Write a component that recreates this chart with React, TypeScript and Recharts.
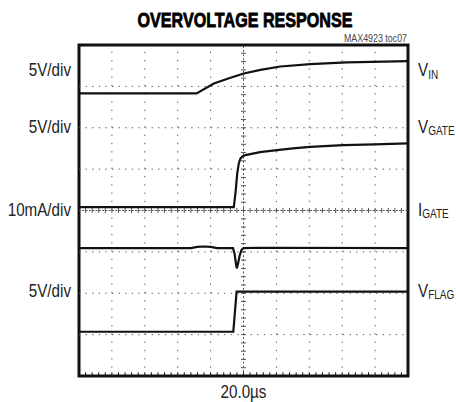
import React from 'react';
import { LineChart, Line, XAxis, YAxis, ReferenceLine, ReferenceArea, Label } from 'recharts';

// scope screen: x in microseconds (20us/div, 10 div), y in divisions (8 div)
const vinTime = [0, 71.5, 82.0, 92.1, 100.2, 110.3, 122.4, 140.6, 162.8, 200];
const vinLevel = [6.83, 6.83, 7.07, 7.21, 7.31, 7.4, 7.48, 7.54, 7.58, 7.61];

const vgateTime = [0, 94.1, 95.2, 96.2, 97.2, 98.2, 99.5, 101.2, 110, 120.4, 130, 140.6, 160.6, 180, 200];
const vgateLevel = [4.08, 4.08, 4.45, 4.9, 5.15, 5.26, 5.31, 5.34, 5.41, 5.46, 5.5, 5.54, 5.58, 5.6, 5.62];

const igateTime = [0, 68, 72, 76, 80, 84, 93.6, 94.6, 95.4, 95.9, 96.6, 97.6, 98.8, 100, 110, 200];
const igateLevel = [3.09, 3.09, 3.12, 3.13, 3.12, 3.09, 3.09, 2.95, 2.72, 2.6, 2.7, 2.9, 3.05, 3.09, 3.1, 3.09];

const vflagTime = [0, 93.8, 95.8, 200];
const vflagLevel = [1.07, 1.07, 2.04, 2.04];

const gridX = [20, 40, 60, 80, 120, 140, 160, 180];
const gridY = [1, 2, 3, 5, 6, 7];
const labelY = [7.41, 6.04, 4.04, 2.08];
const scaleLabels = ['5V/div', '5V/div', '10mA/div', '5V/div'];
const traceNames = [['V', 'IN'], ['V', 'GATE'], ['I', 'GATE'], ['V', 'FLAG']];

const minorX = Array.from({ length: 49 }, (_, i) => (i + 1) * 4);
const minorY = Array.from({ length: 39 }, (_, i) => +((i + 1) * 0.2).toFixed(1));

const SANS = "'Liberation Sans', Arial, sans-serif";
const SQUEEZE = 0.8; // fake a condensed face
const INK = '#111';
const DOT = '#555';
const TEXT = '#222';

const toPoints = (t: number[], v: number[]) => t.map((time, i) => ({ time, value: v[i] }));

const LeftTick = ({ x, y, index }: any) => (
  <g transform={`translate(${x},${y}) scale(${SQUEEZE},1)`}>
    <text x={0} y={0} dy="0.36em" textAnchor="end" fontFamily={SANS} fontSize={19} fill={TEXT}>
      {scaleLabels[index]}
    </text>
  </g>
);

const RightTick = ({ x, y, index }: any) => {
  const [main, sub] = traceNames[index] || ['', ''];
  return (
    <g transform={`translate(${x},${y}) scale(${SQUEEZE},1)`}>
      <text x={0} y={0} dy="0.36em" textAnchor="start" fontFamily={SANS} fontSize={19} fill={TEXT}>
        <tspan>{main}</tspan>
        <tspan fontSize={12.5} dy={2.5}>{sub}</tspan>
      </text>
    </g>
  );
};

const TimeLabel = ({ viewBox }: any) => {
  const cx = viewBox.x + viewBox.width / 2;
  return (
    <g transform={`translate(${cx},${viewBox.y + 22}) scale(${SQUEEZE},1)`}>
      <text x={0} y={0} textAnchor="middle" fontFamily={SANS} fontSize={19} fill={TEXT}>20.0µs</text>
    </g>
  );
};

export default function App() {
  const traces = [
    toPoints(vinTime, vinLevel),
    toPoints(vgateTime, vgateLevel),
    toPoints(igateTime, igateLevel),
    toPoints(vflagTime, vflagLevel),
  ];
  const axisFor = ['right', 'right', 'left', 'left'];

  return (
    <div style={{ position: 'absolute', left: 0, top: 0, width: 456, height: 402, background: '#fff' }}>
      <LineChart width={456} height={402} margin={{ top: 45, right: 0, bottom: 0, left: 0 }}>
        <XAxis
          dataKey="time"
          type="number"
          domain={[0, 200]}
          ticks={[0, 200]}
          allowDuplicatedCategory={false}
          height={26}
          tick={false}
          tickLine={false}
          axisLine={false}
        >
          <Label content={<TimeLabel />} />
        </XAxis>
        <YAxis yAxisId="left" orientation="left" type="number" domain={[0, 8]} ticks={labelY} width={79}
          tickSize={8} tickMargin={0} tickLine={false} axisLine={false} tick={<LeftTick />} interval={0} />
        <YAxis yAxisId="right" orientation="right" type="number" domain={[0, 8]} ticks={labelY} width={48}
          tickSize={10} tickMargin={0} tickLine={false} axisLine={false} tick={<RightTick />} interval={0} />

        {gridY.map((v) => (
          <ReferenceLine key={`gy-${v}`} yAxisId="left" y={v} stroke={DOT} strokeWidth={1} strokeDasharray="1.3 5.3" />
        ))}
        {gridX.map((v) => (
          <ReferenceLine key={`gx-${v}`} yAxisId="left" x={v} stroke={DOT} strokeWidth={1} strokeDasharray="1.3 6.98" />
        ))}
        <ReferenceLine yAxisId="left" y={4} stroke={DOT} strokeWidth={1} strokeDasharray="2 1.3" />
        <ReferenceLine yAxisId="left" x={100} stroke={DOT} strokeWidth={1} strokeDasharray="2 2.1" />
        {minorX.map((t) => (
          <ReferenceLine key={`mx-${t}`} yAxisId="left" stroke={DOT} strokeWidth={1}
            segment={[{ x: t, y: 3.94 }, { x: t, y: 4.06 }]} />
        ))}
        {minorX.map((t) => (
          <ReferenceLine key={`bx-${t}`} yAxisId="left" stroke={INK} strokeWidth={1}
            segment={[{ x: t, y: 0 }, { x: t, y: 0.09 }]} />
        ))}
        {minorY.map((v) => (
          <ReferenceLine key={`my-${v}`} yAxisId="left" stroke={DOT} strokeWidth={1}
            segment={[{ x: 98.5, y: v }, { x: 101.5, y: v }]} />
        ))}

        {traces.map((data, i) => (
          <Line
            key={`trace-${i}`}
            yAxisId={axisFor[i]}
            data={data}
            dataKey="value"
            type="linear"
            stroke={INK}
            strokeWidth={2.2}
            dot={false}
            activeDot={false}
            isAnimationActive={false}
          />
        ))}

        <ReferenceArea yAxisId="left" x1={0} x2={200} y1={0} y2={8} fill="none" stroke={INK} strokeWidth={3} ifOverflow="visible" />
      </LineChart>
      <svg width={456} height={402} style={{ position: 'absolute', left: 0, top: 0, pointerEvents: 'none' }}>
        <text x={245} y={27} textAnchor="middle" fontFamily={SANS} fontWeight="bold" fontSize={21}
          textLength={215} lengthAdjust="spacingAndGlyphs" fill="#000" stroke="#000" strokeWidth={0.8}>
          OVERVOLTAGE RESPONSE
        </text>
        <text x={407} y={42} textAnchor="end" fontFamily={SANS} fontSize={11} fill="#444"
          textLength={63} lengthAdjust="spacingAndGlyphs">
          MAX4923 toc07
        </text>
      </svg>
    </div>
  );
}
